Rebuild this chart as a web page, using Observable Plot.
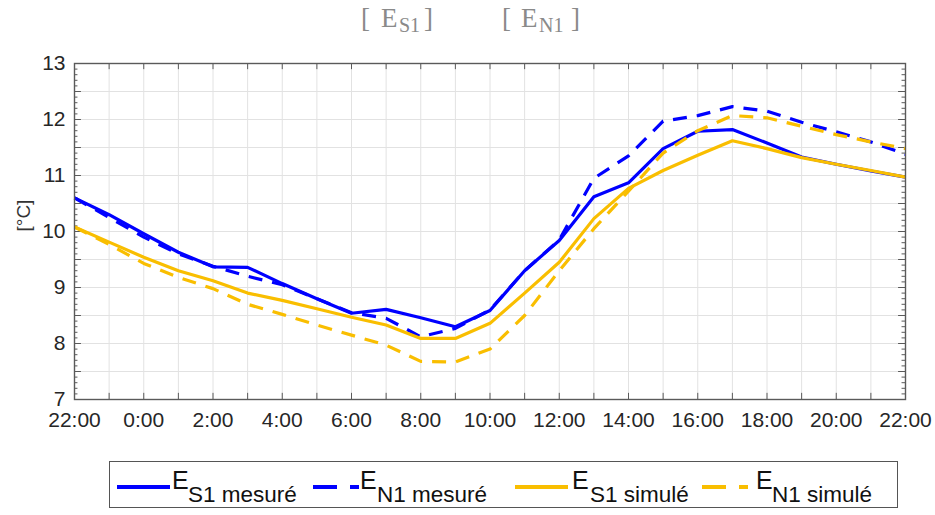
<!DOCTYPE html>
<html>
<head>
<meta charset="utf-8">
<script src="https://cdn.jsdelivr.net/npm/d3@7"></script>
<script src="https://cdn.jsdelivr.net/npm/@observablehq/plot@0.6"></script>
<style>
  html, body { margin: 0; padding: 0; background: #fff; }
  #wrap { width: 935px; height: 515px; position: relative; overflow: hidden; }
  #title { height: 50px; position: relative; font-family: "Liberation Serif", "DejaVu Serif", serif; color: #8a8a8a; font-size: 27px; }
  #title .t { position: absolute; top: 3px; white-space: nowrap; }
  #title .sub { font-size: 20px; position: relative; top: 5px; }
  #chart svg { display: block; }
  #legendBox { position: absolute; left: 109px; top: 461px; width: 789px; height: 47px; border: 1.3px solid #555; box-sizing: border-box; }
  .lg { position: absolute; white-space: nowrap; font-family: "Liberation Sans", Arial, sans-serif; color: #111; line-height: 1; }
  .lgE { font-size: 25px; }
  .lgS { font-size: 22.5px; }
</style>
</head>
<body>
<div id="wrap">
  <div id="title"></div>
  <div id="chart"></div>
  <div id="legendBox"></div>
</div>
<script>
// ---- data ----
const timeLabels = ["22:00","23:00","0:00","1:00","2:00","3:00","4:00","5:00","6:00","7:00","8:00","9:00","10:00",
                    "11:00","12:00","13:00","14:00","15:00","16:00","17:00","18:00","19:00","20:00","21:00","22:00"];
const es1Mesure = [10.6, 10.3, 9.96, 9.63, 9.37, 9.36, 9.07, 8.8, 8.54, 8.61, 8.46, 8.3, 8.59,
                   9.3, 9.84, 10.62, 10.87, 11.48, 11.79, 11.82, 11.58, 11.33, 11.2, 11.08, 10.97];
const en1Mesure = [10.6, 10.25, 9.9, 9.6, 9.38, 9.2, 9.05, 8.8, 8.55, 8.45, 8.12, 8.27, 8.6,
                   9.3, 9.85, 10.95, 11.35, 11.97, 12.07, 12.23, 12.15, 11.95, 11.78, 11.6, 11.38];
const es1Simule = [10.08, 9.81, 9.54, 9.3, 9.12, 8.9, 8.77, 8.62, 8.47, 8.33, 8.09, 8.09, 8.36,
                   8.9, 9.45, 10.23, 10.77, 11.09, 11.36, 11.62, 11.48, 11.32, 11.2, 11.09, 10.97];
const en1Simule = [10.08, 9.77, 9.43, 9.18, 8.98, 8.7, 8.52, 8.33, 8.15, 7.97, 7.68, 7.67, 7.9,
                   8.5, 9.3, 10.05, 10.72, 11.4, 11.8, 12.07, 12.03, 11.88, 11.73, 11.6, 11.48];
const seriesSub = ["S1 mesuré", "N1 mesuré", "S1 simulé", "N1 simulé"];
const seriesColors = ["#0000ff", "#0000ff", "#f9be00", "#f9be00"];
const seriesDash = [null, "14,10", null, "14,10"];
const yTicks = [7, 8, 9, 10, 11, 12, 13];
const titleSubs = ["S1", "N1"];
const yLabel = "[°C]";

const allSeries = [es1Mesure, en1Mesure, es1Simule, en1Simule];
const rows = [];
allSeries.forEach((vals, s) => vals.forEach((v, i) => rows.push({s, i, t: timeLabels[i], v})));

const idx = timeLabels.map((_, i) => i);
const xTicks = idx.filter(i => i % 2 === 0);
const yHalf = d3.range(7, 13.001, 0.5);
const yMinor = d3.range(7, 13.001, 0.1).map(d => Math.round(d * 10) / 10);
const frameC = "#5a5a5a";
const gridC = "#e2e2e2";

const marks = [
  Plot.ruleX(idx, {x: d => d, stroke: gridC, strokeWidth: 1}),
  Plot.ruleY(yHalf, {y: d => d, stroke: gridC, strokeWidth: 1}),
  Plot.ruleX(idx, {x: d => d, y1: 7, y2: 7.11, stroke: frameC, strokeWidth: 1}),
  Plot.ruleX(idx, {x: d => d, y1: 13, y2: 12.89, stroke: frameC, strokeWidth: 1}),
  Plot.ruleY(yMinor, {y: d => d, x1: 0, x2: 0.1, stroke: frameC, strokeWidth: 1}),
  Plot.ruleY(yMinor, {y: d => d, x1: 24, x2: 23.9, stroke: frameC, strokeWidth: 1}),
  Plot.ruleY(yHalf, {y: d => d, x1: 0, x2: 0.2, stroke: frameC, strokeWidth: 1}),
  Plot.ruleY(yHalf, {y: d => d, x1: 24, x2: 23.8, stroke: frameC, strokeWidth: 1}),
];
allSeries.forEach((vals, s) => {
  marks.push(Plot.line(rows.filter(r => r.s === s), {
    x: "i", y: "v", stroke: seriesColors[s], strokeWidth: 3.2,
    strokeDasharray: seriesDash[s] || undefined, strokeLinejoin: "round", strokeLinecap: "butt"
  }));
});
marks.push(Plot.frame({stroke: frameC, strokeWidth: 1.4}));
marks.push(Plot.text([yLabel], {text: d => d, frameAnchor: "left", dx: -51, rotate: -90, fontSize: 19, fill: "#333"}));

const chart = Plot.plot({
  width: 935,
  height: 395,
  marginLeft: 74,
  marginRight: 30,
  marginTop: 13,
  marginBottom: 46,
  style: {fontFamily: "'Liberation Sans', Arial, sans-serif", fontSize: "21px", color: "#262626", background: "#fff"},
  x: {domain: [0, 24], ticks: xTicks, tickFormat: i => timeLabels[i], tickSize: 0, tickPadding: 13, label: null},
  y: {domain: [7, 13], ticks: yTicks, tickFormat: d => String(d), tickSize: 0, tickPadding: 9, label: null},
  marks
});
document.getElementById("chart").appendChild(chart);

// ---- title ----
const title = document.getElementById("title");
function place(parent, cls, x, html, topPx) {
  const el = document.createElement("span");
  el.className = cls;
  el.style.left = x + "px";
  if (topPx !== undefined) el.style.top = topPx + "px";
  el.innerHTML = html;
  parent.appendChild(el);
  return el;
}
const titleX = [[361, 381, 399, 424], [502, 521, 539, 571]];
titleSubs.forEach((sub, k) => {
  const p = titleX[k];
  place(title, "t", p[0], "[");
  place(title, "t", p[1], "E");
  place(title, "t", p[2], '<span class="sub">' + sub + "</span>");
  place(title, "t", p[3], "]");
});

// ---- legend ----
const wrap = document.getElementById("wrap");
const sw = d3.create("svg").attr("width", 935).attr("height", 515)
  .style("position", "absolute").style("left", "0px").style("top", "0px").style("pointer-events", "none");
const swatchX = [117, 313, 515, 702];
const eX = [172, 360, 572, 756];
const subX = [188, 377, 590, 772];
seriesSub.forEach((sub, s) => {
  const x0 = swatchX[s];
  sw.append("line").attr("x1", x0).attr("x2", seriesDash[s] ? x0 + 46 : x0 + 53).attr("y1", 487).attr("y2", 487)
    .attr("stroke", seriesColors[s]).attr("stroke-width", 4)
    .attr("stroke-dasharray", seriesDash[s] ? "24,13" : null);
  place(wrap, "lg lgE", eX[s], "E", 468);
  place(wrap, "lg lgS", subX[s], sub, 484);
});
wrap.appendChild(sw.node());
</script>
</body>
</html>
